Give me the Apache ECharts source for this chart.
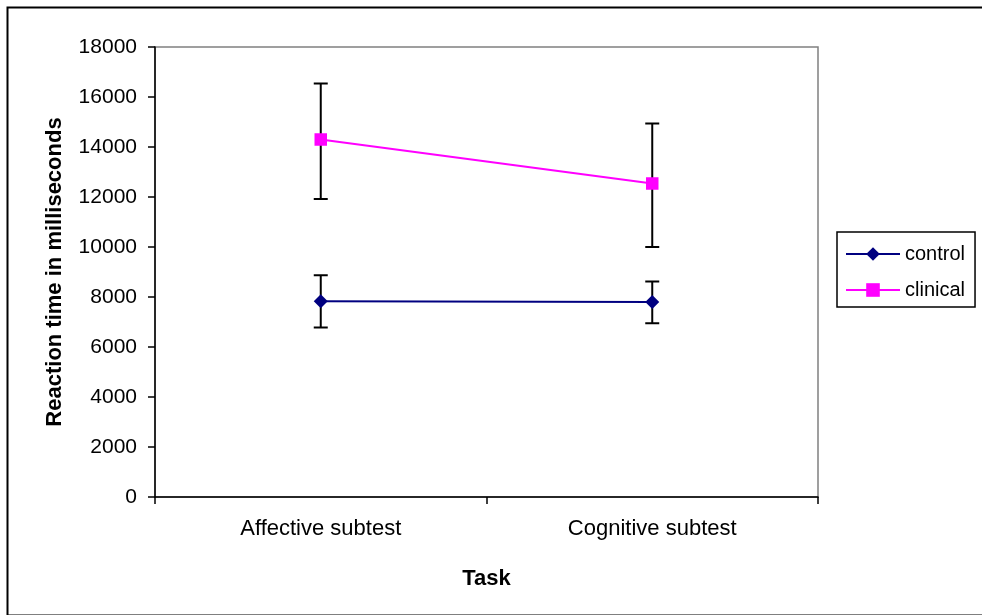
<!DOCTYPE html>
<html>
<head>
<meta charset="utf-8">
<script src="https://cdn.jsdelivr.net/npm/echarts@6/dist/echarts.min.js"></script>
<style>
html,body{margin:0;padding:0;background:#fff;}
#c{width:982px;height:615px;}
</style>
</head>
<body>
<div id="c"></div>
<script>
var categories = ['Affective subtest', 'Cognitive subtest'];
var controlMean = [7830, 7800];
var controlLow = [6780, 6950];
var controlHigh = [8870, 8620];
var clinicalMean = [14300, 12540];
var clinicalLow = [11920, 10000];
var clinicalHigh = [16540, 14940];
var yTicks = [0, 2000, 4000, 6000, 8000, 10000, 12000, 14000, 16000, 18000];

var errData = [];
for (var i = 0; i < categories.length; i++) {
  errData.push([i, controlLow[i], controlHigh[i]]);
  errData.push([i, clinicalLow[i], clinicalHigh[i]]);
}

var font = '"Liberation Sans", Arial, sans-serif';
var chart = echarts.init(document.getElementById('c'));
chart.setOption({
  animation: false,
  backgroundColor: '#fff',
  graphic: [{
    type: 'rect', left: 5, top: 5, z: 100, silent: true,
    shape: {x: 0, y: 0, width: 990, height: 608},
    style: {fill: 'none', stroke: '#000', lineWidth: 2}
  }],
  grid: {
    left: 155, right: 164, top: 47, bottom: 118,
    show: true, borderColor: '#808080', borderWidth: 1.5, backgroundColor: '#fff'
  },
  legend: {
    data: ['control', 'clinical'],
    orient: 'vertical',
    left: 837, top: 232,
    padding: [12, 10, 7, 8],
    itemGap: 16,
    itemWidth: 54,
    itemHeight: 17,
    borderColor: '#000', borderWidth: 1.5,
    textStyle: {fontFamily: font, fontSize: 20, color: '#000'}
  },
  xAxis: {
    type: 'category',
    data: categories,
    boundaryGap: true,
    name: 'Task',
    nameLocation: 'middle',
    nameGap: 71,
    nameTextStyle: {fontFamily: font, fontSize: 22, fontWeight: 'bold', color: '#000'},
    axisLine: {lineStyle: {color: '#000', width: 1.5}},
    axisTick: {show: true, length: 7, lineStyle: {color: '#000', width: 1.5}},
    axisLabel: {fontFamily: font, fontSize: 22, color: '#000', margin: 21}
  },
  yAxis: {
    type: 'value',
    min: yTicks[0], max: yTicks[yTicks.length - 1], interval: 2000,
    name: 'Reaction time in milliseconds',
    nameLocation: 'middle',
    nameGap: 89,
    nameTextStyle: {fontFamily: font, fontSize: 22, fontWeight: 'bold', color: '#000'},
    axisLine: {show: true, lineStyle: {color: '#000', width: 1.5}},
    axisTick: {show: true, length: 7, lineStyle: {color: '#000', width: 1.5}},
    splitLine: {show: false},
    axisLabel: {fontFamily: font, fontSize: 21, color: '#000', margin: 18,
      formatter: function (v) { return String(v); }}
  },
  series: [
    {
      type: 'custom',
      name: 'err',
      z: 2,
      silent: true,
      renderItem: function (params, api) {
        var x = api.value(0);
        var lo = api.coord([x, api.value(1)]);
        var hi = api.coord([x, api.value(2)]);
        var hw = 7;
        var st = {stroke: '#000', lineWidth: 2};
        return {
          type: 'group',
          children: [
            {type: 'line', shape: {x1: lo[0], y1: lo[1], x2: hi[0], y2: hi[1]}, style: st},
            {type: 'line', shape: {x1: lo[0] - hw, y1: lo[1], x2: lo[0] + hw, y2: lo[1]}, style: st},
            {type: 'line', shape: {x1: hi[0] - hw, y1: hi[1], x2: hi[0] + hw, y2: hi[1]}, style: st}
          ]
        };
      },
      data: errData
    },
    {
      name: 'control',
      type: 'line',
      z: 3,
      data: controlMean,
      symbol: 'diamond',
      symbolSize: 14,
      color: '#000080',
      lineStyle: {color: '#000080', width: 2},
      itemStyle: {color: '#000080'}
    },
    {
      name: 'clinical',
      type: 'line',
      z: 3,
      data: clinicalMean,
      symbol: 'rect',
      symbolSize: 12.5,
      color: '#FF00FF',
      lineStyle: {color: '#FF00FF', width: 2},
      itemStyle: {color: '#FF00FF'}
    }
  ]
});
</script>
</body>
</html>
